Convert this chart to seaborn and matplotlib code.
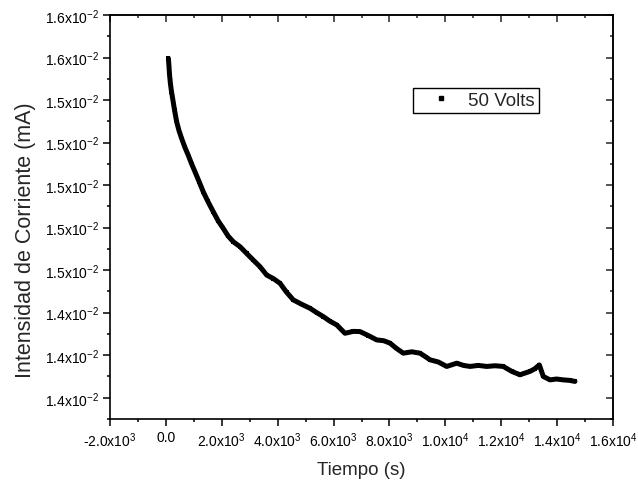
import matplotlib
matplotlib.use("Agg")
import matplotlib.pyplot as plt
from matplotlib.lines import Line2D
import seaborn as sns
import pandas as pd

# ---- data ----
tiempo_s = [90, 110, 130, 160, 200, 244, 310, 387, 470, 566, 680, 802, 920,
            1042, 1190, 1339, 1500, 1697, 1870, 2054, 2230, 2412, 2652,
            2892, 3128, 3370, 3608, 3850, 4083, 4320, 4560, 4850, 5157, 5400,
            5633, 5870, 6113, 6409, 6700, 6946, 7250, 7544, 7800, 8020, 8250,
            8496, 8800, 9093, 9300, 9451, 9750, 10049, 10407, 10650, 10883,
            11180, 11480, 11780, 12074, 12375, 12672, 12850, 13030, 13200,
            13363, 13506, 13745, 13980, 14222, 14450, 14640]
corriente_mA = [0.015745, 0.015700, 0.015650, 0.015600, 0.015550, 0.015507,
                0.015440, 0.015371, 0.015320, 0.015273, 0.015222, 0.015175,
                0.015125, 0.015078, 0.015020, 0.014960, 0.014905, 0.014843,
                0.014790, 0.014745, 0.014700, 0.014667, 0.014638, 0.014598,
                0.014559, 0.014520, 0.014471, 0.014450, 0.014423, 0.014370,
                0.014325, 0.014300, 0.014276, 0.014250, 0.014227, 0.014200,
                0.014178, 0.014129, 0.014140, 0.014139, 0.014115, 0.014090,
                0.014085, 0.014071, 0.014040, 0.014012, 0.014020, 0.014012,
                0.013990, 0.013973, 0.013960, 0.013934, 0.013953, 0.013940,
                0.013934, 0.013940, 0.013934, 0.013938, 0.013934, 0.013905,
                0.013885, 0.013895, 0.013905, 0.013920, 0.013943, 0.013875,
                0.013855, 0.013860, 0.013855, 0.013852, 0.013846]
serie_label = "50 Volts"

x_ticks = [-2000, 0, 2000, 4000, 6000, 8000, 10000, 12000, 14000, 16000]
x_tick_labels = [r"-2.0x10$^{3}$", "0.0", r"2.0x10$^{3}$", r"4.0x10$^{3}$",
                 r"6.0x10$^{3}$", r"8.0x10$^{3}$", r"1.0x10$^{4}$",
                 r"1.2x10$^{4}$", r"1.4x10$^{4}$", r"1.6x10$^{4}$"]
y_ticks = [0.01375, 0.01400, 0.01425, 0.01450, 0.01475, 0.01500, 0.01525,
           0.01550, 0.01575, 0.01600]
y_tick_labels = [r"1.4x10$^{-2}$", r"1.4x10$^{-2}$", r"1.4x10$^{-2}$",
                 r"1.5x10$^{-2}$", r"1.5x10$^{-2}$", r"1.5x10$^{-2}$",
                 r"1.5x10$^{-2}$", r"1.5x10$^{-2}$", r"1.6x10$^{-2}$",
                 r"1.6x10$^{-2}$"]

df = pd.DataFrame({"Tiempo": tiempo_s, "Corriente": corriente_mA})

sns.set_style("ticks")
plt.rcParams["font.family"] = ["Liberation Sans", "DejaVu Sans"]
plt.rcParams["mathtext.default"] = "regular"

fig = plt.figure(figsize=(6.38, 4.85), dpi=100)
ax = fig.add_axes([110 / 638, 1 - 420 / 485, 503 / 638, 404 / 485])

sns.lineplot(data=df, x="Tiempo", y="Corriente", ax=ax, color="black",
             linewidth=3.6, marker="s", markersize=2.5, markeredgewidth=0,
             solid_joinstyle="round", solid_capstyle="round")

ax.set_xlim(-2000, 16000)
ax.set_ylim(0.013631, 0.0160)

x_minor = [t + 1000 for t in x_ticks[:-1]]
y_minor = [t + 0.000125 for t in y_ticks[:-1]] + [y_ticks[0] - 0.000125]

ax.set_xticks(x_ticks)
ax.set_xticklabels(x_tick_labels, fontsize=10)
ax.set_yticks(y_ticks)
ax.set_yticklabels(y_tick_labels, fontsize=10)
ax.set_xticks(x_minor, minor=True)
ax.set_yticks(y_minor, minor=True)

for s in ax.spines.values():
    s.set_visible(True)
    s.set_linewidth(1.2)
    s.set_color("black")

ax.tick_params(which="major", direction="out", length=5, width=1.1,
               colors="black", pad=3)
ax.tick_params(which="minor", direction="out", length=2.5, width=1.1,
               colors="black")

# mirrored inward ticks on top and right
top = ax.secondary_xaxis("top")
top.set_xticks(x_ticks)
top.set_xticks(x_minor, minor=True)
top.tick_params(which="major", direction="in", length=5, width=1.1,
                labeltop=False)
top.tick_params(which="minor", direction="in", length=2.5, width=1.1)
top.spines["top"].set_linewidth(1.2)
right = ax.secondary_yaxis("right")
right.set_yticks(y_ticks)
right.set_yticks(y_minor, minor=True)
right.tick_params(which="major", direction="in", length=5, width=1.1,
                  labelright=False)
right.tick_params(which="minor", direction="in", length=2.5, width=1.1)
right.spines["right"].set_linewidth(1.2)

ax.set_xlabel("Tiempo (s)", fontsize=13.5, labelpad=9)
ax.set_ylabel("Intensidad de Corriente (mA)", fontsize=15.5, labelpad=6)
ax.yaxis.label.set_y(0.4455)

handle = Line2D([], [], linestyle="none", marker="s", markersize=3,
                color="black")
leg = ax.legend([handle], [serie_label], loc="upper left",
                bbox_to_anchor=(0.602, 0.82), fontsize=13.5, frameon=True,
                fancybox=False, framealpha=1, edgecolor="black",
                borderpad=0.22, handletextpad=0.2, handlelength=2.53,
                borderaxespad=0)
leg.get_frame().set_linewidth(1.0)

fig.savefig("out.png", dpi=100)
